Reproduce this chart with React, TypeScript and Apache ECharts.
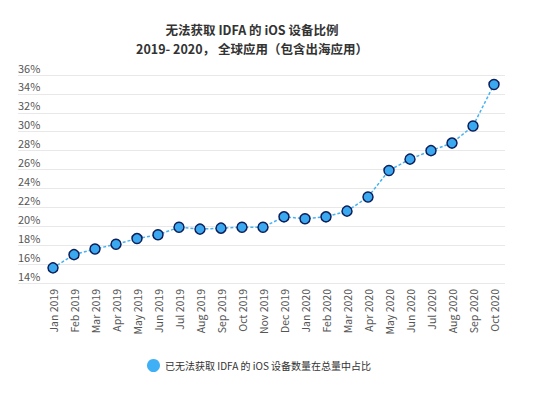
import React, { useEffect, useRef } from "react";
import * as echarts from "echarts";

const categories = [
  "Jan 2019", "Feb 2019", "Mar 2019", "Apr 2019", "May 2019", "Jun 2019",
  "Jul 2019", "Aug 2019", "Sep 2019", "Oct 2019", "Nov 2019", "Dec 2019",
  "Jan 2020", "Feb 2020", "Mar 2020", "Apr 2020", "May 2020", "Jun 2020",
  "Jul 2020", "Aug 2020", "Sep 2020", "Oct 2020",
];
const values = [
  15.6, 17.0, 17.6, 18.1, 18.7, 19.1, 19.9, 19.7, 19.8, 19.9, 19.9, 21.0,
  20.8, 21.0, 21.6, 23.1, 25.9, 27.1, 28.0, 28.8, 30.6, 35.0,
];
const seriesName = "已无法获取 IDFA 的 iOS 设备数量在总量中占比";
const titleLines = ["无法获取 IDFA 的 iOS 设备比例", "2019- 2020， 全球应用（包含出海应用）"];
const yMin = 14;
const yMax = 36;
const yStep = 2;

const FONT = '"Microsoft YaHei", "Noto Sans CJK SC", "Noto Sans", sans-serif';

export default function App() {
  const ref = useRef<HTMLDivElement>(null);
  useEffect(() => {
    if (!ref.current) return;
    const chart = echarts.init(ref.current, null, { renderer: "svg" });
    chart.setOption({
      animation: false,
      textStyle: { fontFamily: FONT },
      title: {
        text: titleLines[0] + "\n" + titleLines[1],
        left: 247,
        top: 15,
        textAlign: "center",
        textStyle: { fontSize: 12.5, fontWeight: "bold", color: "#333", lineHeight: 19, fontFamily: FONT },
      },
      legend: {
        data: [{ name: seriesName, icon: "circle", itemStyle: { color: "#3fb0f5", borderWidth: 0 } }],
        left: 142,
        top: 354,
        itemWidth: 13,
        itemHeight: 13,
        itemGap: 6,
        textStyle: { fontSize: 10, color: "#333", fontFamily: FONT },
      },
      grid: [
        { left: 18, right: 28, top: 75, bottom: 396 - 283, containLabel: false },
        { left: 42.5, right: 28.5, top: 75, bottom: 396 - 283, containLabel: false },
      ],
      xAxis: [
        { type: "value", gridIndex: 0, show: false, min: 0, max: 1 },
        {
          type: "category",
          gridIndex: 1,
          data: categories,
          boundaryGap: true,
          axisLine: { show: false },
          axisTick: { show: false },
          axisLabel: { rotate: 90, interval: 0, margin: 6, fontSize: 10.5, color: "#555", fontFamily: FONT },
        },
      ],
      yAxis: [
        {
          type: "value",
          gridIndex: 0,
          min: yMin,
          max: yMax,
          interval: yStep,
          axisLine: { show: false },
          axisTick: { show: false },
          splitLine: { show: true, lineStyle: { color: "#e8e8e8", width: 1 } },
          axisLabel: {
            inside: true,
            margin: 0,
            verticalAlign: "bottom",
            padding: [0, 0, 2, 0],
            fontSize: 11,
            color: "#555",
            fontFamily: FONT,
            formatter: (v: number) => v + "%",
          },
        },
        { type: "value", gridIndex: 1, min: yMin, max: yMax, show: false, splitLine: { show: false } },
      ],
      series: [
        {
          name: seriesName,
          type: "line",
          xAxisIndex: 1,
          yAxisIndex: 1,
          data: values,
          symbol: "circle",
          symbolSize: 10,
          lineStyle: { color: "#45b2f2", width: 1.5, type: [3, 2] },
          itemStyle: { color: "#3aa9f0", borderColor: "#0f1f5a", borderWidth: 1.5 },
        },
      ],
    });
    return () => chart.dispose();
  }, []);
  return <div ref={ref} style={{ width: 533, height: 396, position: "absolute", left: 0, top: 0 }} />;
}
